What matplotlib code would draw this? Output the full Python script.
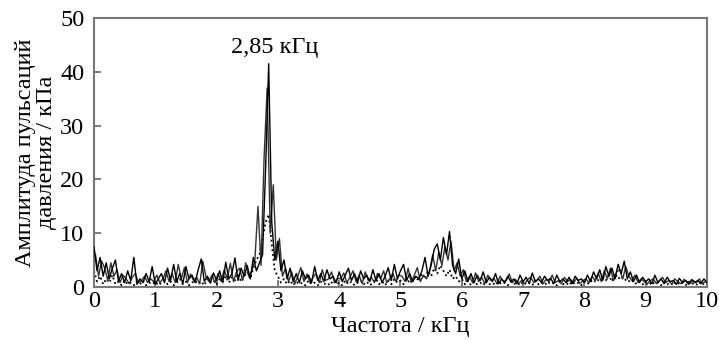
import numpy as np
import matplotlib
matplotlib.use("Agg")
import matplotlib.pyplot as plt

plt.rcParams['font.family'] = ['Liberation Serif', 'DejaVu Serif']

# Series A (solid black), grid 0..10 kHz step 0.05
amp_a = [
    7.5, 3, 5.5, 2, 4.5, 1.5, 3.5, 5, 1, 2.5, 0.8, 3, 1.2, 5.5, 0.5, 1.5, 0.8, 2.5, 1, 3.8,
    0.5, 1.5, 2.5, 0.8, 3.5, 1.2, 4.2, 1, 2.5, 0.6, 3.8, 1.5, 2.2, 0.8, 3.2, 5.2, 1, 2, 0.8, 2.6,
    1.2, 3, 0.8, 4.6, 1.5, 2.5, 5.4, 1.2, 3.5, 2, 4, 1.5, 5.5, 3, 4.5, 6, 22, 41.5, 12, 5,
    8.5, 3, 5, 1.5, 3.5, 1, 2.5, 0.8, 3, 1.5, 2.2, 0.8, 3.8, 1.2, 2.5, 1, 3.2, 1.5, 2, 0.8,
    2.8, 1, 2.2, 3.5, 1.2, 2.5, 0.8, 3, 1.5, 2.2, 1, 3.2, 1.2, 2.5, 0.8, 2, 3.6, 1.2, 4.2, 1.5,
    3, 4.2, 1.2, 2.5, 1, 2, 1.5, 3, 5.5, 2, 4, 7, 8, 5, 9.2, 6, 10.3, 4, 2.5, 5.2,
    1.5, 3, 1, 2.5, 0.8, 2.2, 1.2, 2.8, 0.8, 1.8, 1, 2.5, 0.6, 1.5, 0.8, 2, 1, 1.5, 0.6, 2.2,
    1, 1.8, 0.6, 2.6, 1, 1.5, 0.8, 2, 1.2, 1.6, 0.6, 2.2, 1, 1.5, 0.8, 1.8, 0.6, 2, 1.2, 1.5,
    0.8, 2.2, 1, 2.8, 1.5, 3.2, 1.2, 3.8, 2, 3.5, 1.5, 4.2, 2.5, 4.8, 1.5, 2.8, 1, 2.2, 0.8, 1.8,
    1, 1.5, 0.6, 2.2, 0.8, 1.5, 0.6, 1.8, 1, 1.2, 0.5, 1.6, 0.8, 1.2, 0.5, 1.4, 0.8, 1.2, 0.6, 1.5,
    0.8,
]

# Series B (solid dark grey), grid 0.025..9.975 kHz step 0.05
amp_b = [
    6, 2, 4.8, 3.5, 1.2, 4.5, 2, 3.2, 0.8, 2.2, 1.5, 0.6, 1.8, 2.5, 0.8, 1.2, 2, 0.8, 1.5, 1,
    2.2, 0.8, 1.5, 3, 1, 2.5, 0.8, 4.2, 1.5, 3.6, 0.8, 2.4, 1.2, 1.8, 0.6, 4.8, 2, 1, 2.2, 0.8,
    2.5, 1, 3.2, 1.5, 4.4, 1, 2.8, 3.5, 1.2, 4.5, 2, 3, 5, 15, 4, 24, 37, 10, 19, 5,
    9, 2, 3.5, 1, 2.8, 0.6, 2, 3.6, 1, 2.4, 0.8, 1.8, 2.5, 0.8, 3.2, 1.2, 1.5, 2.8, 0.8, 1.6,
    1.5, 2.6, 0.8, 1.8, 3, 1, 2.2, 0.6, 2.8, 1.2, 1.8, 0.8, 2.5, 1.5, 3, 0.8, 1.5, 2.5, 1, 2.2,
    2, 1, 3.5, 0.8, 2.2, 3.6, 1, 2.2, 1.5, 3, 6, 3, 6.5, 4, 7.5, 5, 8.5, 3, 4.5, 2,
    3.2, 1, 2, 0.8, 2.6, 1, 1.8, 0.6, 2.2, 1.2, 1.6, 0.6, 2, 1, 1.2, 2.4, 0.8, 1.4, 0.6, 1.2,
    0.6, 1.4, 1.8, 0.8, 1.2, 2, 0.6, 1.4, 1, 2.2, 0.8, 1.2, 0.6, 1.8, 1, 1.4, 0.8, 1.6, 0.6, 1.2,
    1.5, 0.8, 2, 1.2, 2.6, 1, 3, 1.5, 3.5, 1.2, 2.8, 3.2, 1.5, 3.8, 2, 1.2, 2.2, 0.8, 1.5, 1,
    0.6, 1.2, 1.5, 0.6, 1.2, 1.8, 0.8, 1.2, 0.5, 1.5, 1, 0.6, 1.4, 1, 0.6, 1.2, 0.8, 1.5, 0.6, 1,
]

# Series C (dotted black), grid 0..10 kHz step 0.05
amp_c = [
    3, 1, 2, 0.5, 1.5, 0.8, 2.2, 0.5, 1, 0.3, 1.2, 0.5, 0.8, 0.3, 1, 0.5, 1.2, 0.3, 0.8, 0.5,
    1, 0.3, 0.8, 1.2, 0.5, 1, 0.3, 0.8, 1.5, 0.5, 1, 0.3, 0.8, 1.2, 0.5, 1, 0.3, 1.5, 0.8, 1.2,
    0.5, 1.5, 1, 2, 0.8, 1.8, 1.2, 2.5, 1, 2, 2.8, 1.5, 3.5, 5, 6, 9, 12, 13.5, 8, 3,
    2, 0.8, 1.5, 0.5, 1.2, 0.3, 1, 0.5, 0.8, 0.3, 1.2, 0.5, 0.8, 0.3, 1, 0.5, 0.8, 0.3, 1.2, 0.5,
    0.8, 0.3, 1.2, 0.5, 1, 0.3, 0.8, 1.2, 0.5, 1, 0.3, 0.8, 1.5, 0.5, 1, 0.3, 1.2, 0.5, 1.5, 0.8,
    1.2, 0.5, 1.5, 0.8, 1.2, 2, 1, 2.5, 1.5, 3, 2, 3.5, 2.5, 4, 3, 2, 3.2, 1.5, 2, 1,
    1.5, 0.5, 1.2, 0.3, 1, 0.5, 0.8, 0.3, 1.2, 0.5, 0.8, 0.3, 1, 0.5, 0.8, 0.3, 1, 0.5, 0.8, 0.3,
    1, 0.5, 0.8, 0.3, 1.2, 0.5, 0.8, 0.3, 1, 0.5, 0.8, 0.3, 1, 0.5, 0.8, 0.3, 1, 0.5, 0.8, 0.3,
    1, 0.5, 1.2, 0.8, 1.5, 1, 2, 1.2, 2.2, 1, 2.5, 1.5, 2, 1.2, 1.5, 0.8, 1.2, 0.5, 1, 0.5,
    0.8, 0.3, 1, 0.5, 0.8, 0.3, 1, 0.5, 0.8, 0.3, 1, 0.5, 0.8, 0.3, 1, 0.5, 0.8, 0.3, 1, 0.5,
    0.5,
]

freq_a = np.arange(len(amp_a)) * 0.05
freq_b = 0.025 + np.arange(len(amp_b)) * 0.05
freq_c = np.arange(len(amp_c)) * 0.05

x_ticks = [0, 1, 2, 3, 4, 5, 6, 7, 8, 9, 10]
y_ticks = [0, 10, 20, 30, 40, 50]
peak_label = "2,85 кГц"
x_label = "Частота / кГц"
y_label = "Амплитуда пульсаций\nдавления / кПа"

FS = 17.5

fig = plt.figure(figsize=(7.19, 3.40), dpi=100)
ax = fig.add_axes([0.1307, 0.156, 0.8526, 0.791])

ax.plot(freq_c, amp_c, color='black', linestyle=':', linewidth=1.3, zorder=2)
ax.plot(freq_b, amp_b, color='#333333', linewidth=1.0, zorder=3)
ax.plot(freq_a, amp_a, color='black', linewidth=1.0, zorder=4)

ax.set_xlim(0, 10)
ax.set_ylim(0, 50)
ax.set_xticks(x_ticks)
ax.set_yticks(y_ticks)
ax.tick_params(direction='in', length=5, width=1.2, color='#666666',
               labelsize=FS, top=False, right=False)
ax.tick_params(axis='y', pad=7)
ax.tick_params(axis='x', pad=3)
for s in ax.spines.values():
    s.set_color('#777777')
    s.set_linewidth(1.5)

ax.set_xlabel(x_label, fontsize=FS, labelpad=3)
ax.set_ylabel(y_label, fontsize=FS, linespacing=1.0, labelpad=2)
ax.text(2.95, 44.6, peak_label, fontsize=FS, ha='center', va='center')

fig.savefig("out.png", dpi=100)
